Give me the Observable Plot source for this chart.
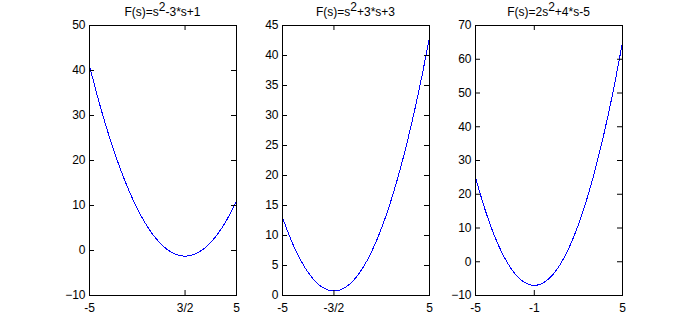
<!DOCTYPE html>
<html><head><meta charset="utf-8">
<script src="https://cdn.jsdelivr.net/npm/d3@7"></script>
<script src="https://cdn.jsdelivr.net/npm/@observablehq/plot@0.6"></script>
<style>
body{margin:0;background:#fff;}
#chart{position:relative;width:687px;height:331px;overflow:hidden;font-family:"Liberation Sans",Arial,sans-serif;background:#fff;}
.panel{position:absolute;top:0;}
.title{position:absolute;font-size:12px;line-height:12px;text-align:center;color:#000;white-space:nowrap;}
.title sup{font-size:12px;vertical-align:baseline;position:relative;top:-5px;}
</style></head><body><div id="chart"></div>
<script>
// sample points along s
const s  = [-5,-4.5,-4,-3.5,-3,-2.5,-2,-1.5,-1,-0.5,0,0.5,1,1.5,2,2.5,3,3.5,4,4.5,5];
const f1 = [41,34.75,29,23.75,19,14.75,11,7.75,5,2.75,1,-0.25,-1,-1.25,-1,-0.25,1,2.75,5,7.75,11];
const f2 = [13,9.75,7,4.75,3,1.75,1,0.75,1,1.75,3,4.75,7,9.75,13,16.75,21,25.75,31,36.75,43];
const f3 = [25,17.5,11,5.5,1,-2.5,-5,-6.5,-7,-6.5,-5,-2.5,1,5.5,11,17.5,25,33.5,43,53.5,65];

const titles = [["F(s)=s","2","-3*s+1"],["F(s)=s","2","+3*s+3"],["F(s)=2s","2","+4*s-5"]];
const yDomains = [[-10,50],[0,45],[-10,70]];
const yTicks = [[-10,0,10,20,30,40,50],[0,5,10,15,20,25,30,35,40,45],[-10,0,10,20,30,40,50,60,70]];
const xTicks = [[-5,1.5,5],[-5,-1.5,5],[-5,-1,5]];
const xTickLabels = [["-5","3/2","5"],["-5","-3/2","5"],["-5","-1","5"]];
const series = [f1,f2,f3];

const frameLefts = [89,282,475];
const W = 147, H = 270, mL = 40, mR = 10, mT = 25, mB = 36;
const chart = document.getElementById("chart");

series.forEach((vals, k) => {
  const data = s.map((x, i) => ({s: x, v: vals[i]}));
  const labelMap = new Map(xTicks[k].map((t, i) => [t, xTickLabels[k][i]]));
  const p = Plot.plot({
    width: W + mL + mR, height: H + mT + mB,
    marginLeft: mL, marginRight: mR, marginTop: mT, marginBottom: mB,
    style: {fontFamily: '"Liberation Sans", Arial, sans-serif', fontSize: "12px", background: "transparent", color: "black", overflow: "visible"},
    x: {domain: [-5, 5]},
    y: {domain: yDomains[k]},
    marks: [
      Plot.line(data, {x: "s", y: "v", stroke: "#0000ff", strokeWidth: 1, curve: "natural", shapeRendering: "crispEdges"}),
      Plot.tickY(yTicks[k], {y: d => d, insetRight: W - 5, stroke: "black"}),
      Plot.tickY(yTicks[k], {y: d => d, insetLeft: W - 5, stroke: "black"}),
      Plot.tickX(xTicks[k], {x: d => d, insetTop: H - 5, stroke: "black"}),
      Plot.tickX(xTicks[k], {x: d => d, insetBottom: H - 5, stroke: "black"}),
      Plot.frame({stroke: "black", strokeOpacity: 1}),
      Plot.axisY({ticks: yTicks[k], tickSize: 0, tickPadding: 4, fontSize: 12, label: null}),
      Plot.axisX({ticks: xTicks[k], tickSize: 0, tickPadding: 8, fontSize: 12, label: null, tickFormat: d => labelMap.get(d)})
    ]
  });
  p.classList.add("panel");
  p.style.left = (frameLefts[k] - mL) + "px";
  chart.appendChild(p);

  const t = document.createElement("div");
  t.className = "title";
  t.style.left = frameLefts[k] + "px";
  t.style.width = W + "px";
  t.style.top = "6px";
  t.appendChild(document.createTextNode(titles[k][0]));
  const sup = document.createElement("sup");
  sup.textContent = titles[k][1];
  t.appendChild(sup);
  t.appendChild(document.createTextNode(titles[k][2]));
  chart.appendChild(t);
});
</script>
</body></html>
